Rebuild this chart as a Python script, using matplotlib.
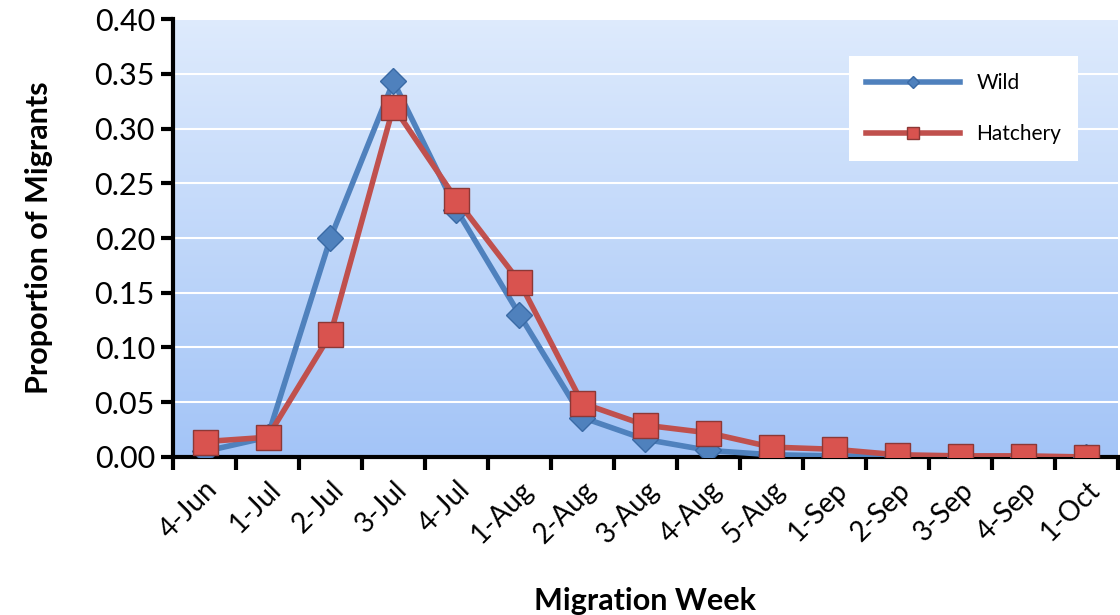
import numpy as np
import matplotlib.pyplot as plt

weeks = ['4-Jun', '1-Jul', '2-Jul', '3-Jul', '4-Jul', '1-Aug', '2-Aug', '3-Aug',
         '4-Aug', '5-Aug', '1-Sep', '2-Sep', '3-Sep', '4-Sep', '1-Oct']
wild = [0.005, 0.018, 0.200, 0.343, 0.226, 0.130, 0.036, 0.016,
        0.006, 0.002, 0.001, 0.0005, 0.0, 0.0, 0.0]
hatchery = [0.014, 0.018, 0.112, 0.320, 0.235, 0.160, 0.049, 0.029,
            0.022, 0.009, 0.007, 0.002, 0.001, 0.001, 0.0]

plt.rcParams['font.family'] = ['Lato', 'DejaVu Sans']

fig = plt.figure(figsize=(11.2, 6.15), dpi=100)
ax = fig.add_axes([0.1545, 0.257, 0.8435, 0.712])

x = np.arange(len(weeks))
ax.set_xlim(-0.5, len(weeks) - 0.5)
ax.set_ylim(0, 0.40)

# gradient background
grad = np.linspace(0, 1, 256).reshape(-1, 1)
top = np.array([0.87, 0.92, 0.99])
bot = np.array([0.64, 0.77, 0.97])
img = bot + (top - bot) * grad
ax.imshow(img[:, None, :].repeat(2, axis=1), extent=[-0.5, len(weeks) - 0.5, 0, 0.40],
          origin='lower', aspect='auto', zorder=0)

ax.set_yticks(np.arange(0, 0.41, 0.05))
ax.yaxis.grid(True, color='white', linewidth=1.5, zorder=1)
ax.set_axisbelow(True)

ax.plot(x, wild, color='#4f81bd', linewidth=4, marker='D', markersize=13,
        markerfacecolor='#4f81bd', markeredgecolor='#3a6aa5', label='Wild', zorder=3)
ax.plot(x, hatchery, color='#c0504d', linewidth=4, marker='s', markersize=18,
        markerfacecolor='#d9534f', markeredgecolor='#8c3836', label='Hatchery', zorder=4)

ax.set_yticklabels([f'{v:.2f}' for v in np.arange(0, 0.41, 0.05)], fontsize=22)
ax.set_xticks(x)
ax.set_xticklabels(weeks, rotation=45, ha='right', rotation_mode='anchor', fontsize=20)
ax.set_xticks(np.arange(-0.5, len(weeks)), minor=True)
ax.tick_params(axis='x', which='major', length=0, pad=14)
ax.tick_params(axis='x', which='minor', length=9, width=3, direction='out')
ax.tick_params(axis='y', length=9, width=3, direction='out', pad=4)

for s in ['top', 'right']:
    ax.spines[s].set_visible(False)
for s in ['left', 'bottom']:
    ax.spines[s].set_linewidth(3)

ax.set_ylabel('Proportion of Migrants', fontsize=22, fontweight='bold', labelpad=30)
ax.set_xlabel('Migration Week', fontsize=22, fontweight='bold', labelpad=28)

leg = ax.legend(loc='upper right', bbox_to_anchor=(0.958, 0.915), fontsize=15,
                frameon=True, fancybox=False, edgecolor='white', framealpha=1,
                borderpad=0.8, labelspacing=1.5, handlelength=4.5, markerscale=0.45,
                borderaxespad=0)
leg.get_frame().set_linewidth(0)

fig.savefig('out.png', dpi=100)
